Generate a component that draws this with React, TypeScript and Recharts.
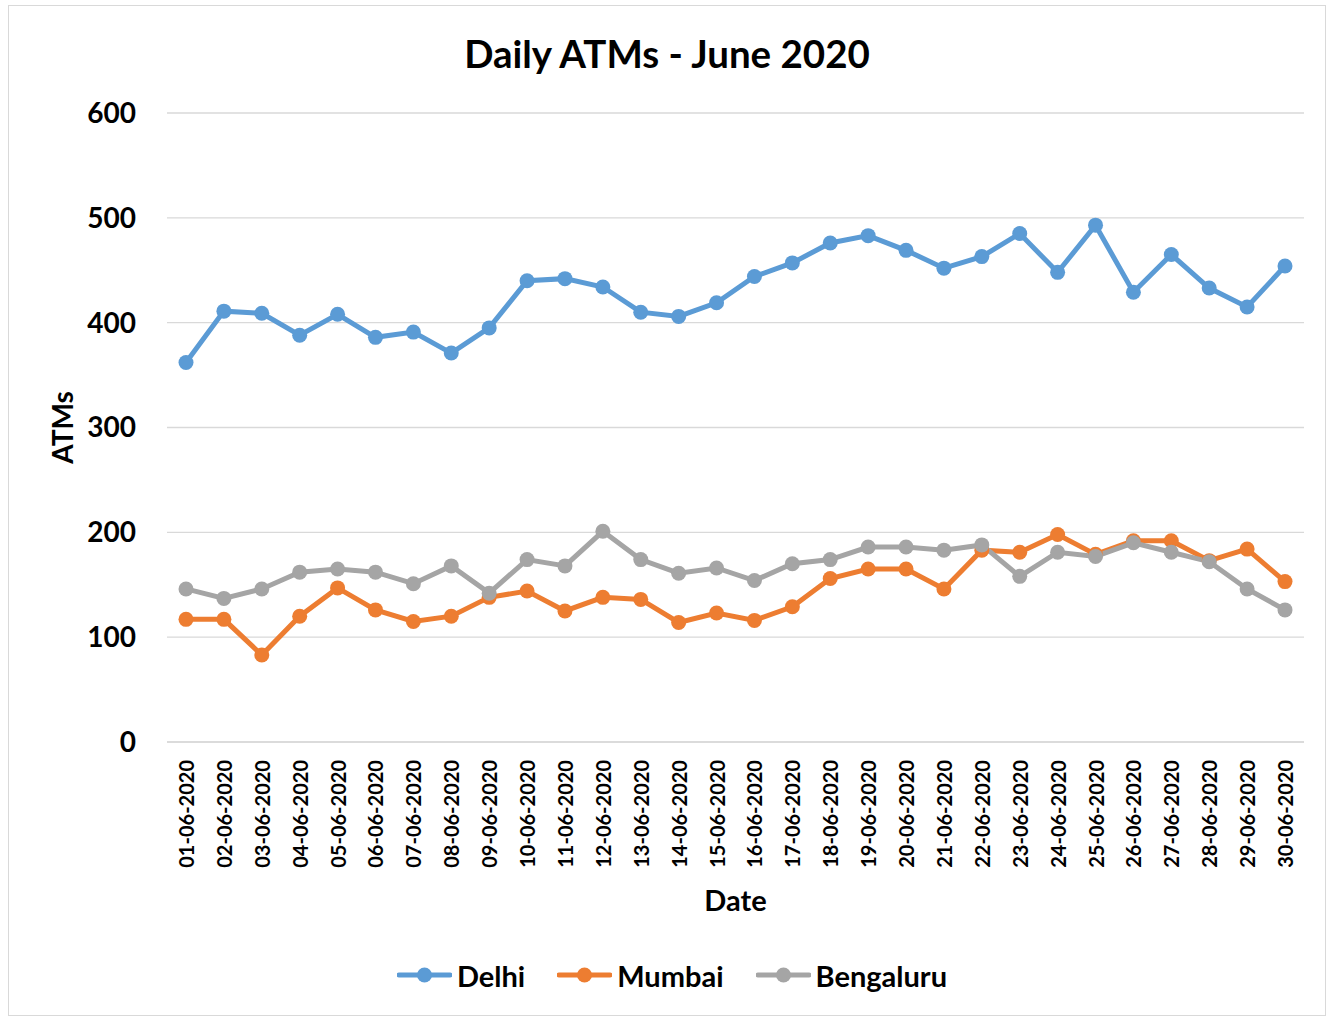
import React from 'react';
import { LineChart, Line, XAxis, YAxis, CartesianGrid, Legend, Label } from 'recharts';

const dates = [
  '01-06-2020', '02-06-2020', '03-06-2020', '04-06-2020', '05-06-2020', '06-06-2020',
  '07-06-2020', '08-06-2020', '09-06-2020', '10-06-2020', '11-06-2020', '12-06-2020',
  '13-06-2020', '14-06-2020', '15-06-2020', '16-06-2020', '17-06-2020', '18-06-2020',
  '19-06-2020', '20-06-2020', '21-06-2020', '22-06-2020', '23-06-2020', '24-06-2020',
  '25-06-2020', '26-06-2020', '27-06-2020', '28-06-2020', '29-06-2020', '30-06-2020',
];
const delhi = [362, 411, 409, 388, 408, 386, 391, 371, 395, 440, 442, 434, 410, 406, 419, 444, 457, 476, 483, 469, 452, 463, 485, 448, 493, 429, 465, 433, 415, 454];
const mumbai = [117, 117, 83, 120, 147, 126, 115, 120, 138, 144, 125, 138, 136, 114, 123, 116, 129, 156, 165, 165, 146, 183, 181, 198, 179, 192, 192, 173, 184, 153];
const bengaluru = [146, 137, 146, 162, 165, 162, 151, 168, 142, 174, 168, 201, 174, 161, 166, 154, 170, 174, 186, 186, 183, 188, 158, 181, 177, 190, 181, 172, 146, 126];
const yTicks = [0, 100, 200, 300, 400, 500, 600];
const seriesNames = ['Delhi', 'Mumbai', 'Bengaluru'];
const seriesColors: Record<string, string> = { Delhi: '#5B9BD5', Mumbai: '#ED7D31', Bengaluru: '#A5A5A5' };

const data = dates.map((d, i) => ({ date: d, Delhi: delhi[i], Mumbai: mumbai[i], Bengaluru: bengaluru[i] }));

const FONT = 'Lato, "Open Sans", sans-serif';
const W = 1316;
const H = 1009;

const XTick = (props: any) => {
  const { x, y, payload } = props;
  return (
    <text x={x} y={y} transform={`rotate(-90 ${x} ${y})`} textAnchor="end" dominantBaseline="central"
      fontFamily={FONT} fontWeight={700} fontSize={20} fill="#000">{payload.value}</text>
  );
};

const renderLegend = () => (
  <div style={{ display: 'flex', justifyContent: 'center', gap: 32, fontFamily: FONT, fontWeight: 700, fontSize: 29, color: '#000', height: 36, alignItems: 'center', paddingLeft: 10, boxSizing: 'border-box' }}>
    {seriesNames.map((name) => (
      <div key={name} style={{ display: 'flex', alignItems: 'center' }}>
        <svg width={55} height={16}>
          <line x1={2} y1={8} x2={53} y2={8} stroke={seriesColors[name]} strokeWidth={5} strokeLinecap="round" />
          <circle cx={27.5} cy={8} r={7.5} fill={seriesColors[name]} />
        </svg>
        <span style={{ marginLeft: 5 }}>{name}</span>
      </div>
    ))}
  </div>
);

export default function App() {
  return (
    <div style={{ position: 'absolute', left: 8, top: 5, width: W, height: H, border: '1px solid #d9d9d9', background: '#fff' }}>
      <div style={{ position: 'absolute', top: 27, left: 0, width: W, height: 40, lineHeight: '40px', textAlign: 'center', fontFamily: FONT, fontWeight: 700, fontSize: 38.5, color: '#000', zIndex: 2 }}>
        Daily ATMs - June 2020
      </div>
      <LineChart width={W} height={H} data={data} margin={{ top: 107, right: 21, left: 10, bottom: 0 }}>
        <CartesianGrid vertical={false} stroke="#d9d9d9" strokeWidth={1.3} />
        <XAxis dataKey="date" height={273} padding={{ left: 19, right: 19 }} tickLine={false} tickSize={0} tickMargin={18}
          axisLine={{ stroke: '#d9d9d9', strokeWidth: 1.3 }} tick={<XTick />} interval={0}>
          <Label content={(p: any) => {
            const vb = p.viewBox;
            return <text x={vb.x + vb.width / 2} y={vb.y + 157} textAnchor="middle" dominantBaseline="central"
              fontFamily={FONT} fontWeight={700} fontSize={29} fill="#000">Date</text>;
          }} />
        </XAxis>
        <YAxis width={148} domain={[0, 600]} ticks={yTicks} axisLine={false} tickLine={false} tickSize={0} tickMargin={31}
          tick={{ fontFamily: FONT, fontWeight: 700, fontSize: 28, fill: '#000' }}>
          <Label content={(p: any) => {
            const vb = p.viewBox;
            const cx = vb.x + 43;
            const cy = vb.y + vb.height / 2;
            return <text x={cx} y={cy} transform={`rotate(-90 ${cx} ${cy})`} textAnchor="middle" dominantBaseline="central"
              fontFamily={FONT} fontWeight={700} fontSize={28} fill="#000">ATMs</text>;
          }} />
        </YAxis>
        <Legend verticalAlign="middle" align="center" layout="horizontal" content={renderLegend}
          wrapperStyle={{ position: 'absolute', top: 951, left: 0, width: W, height: 36 }} />
        {seriesNames.map((name) => (
          <Line key={name} type="linear" dataKey={name} stroke={seriesColors[name]} strokeWidth={5}
            dot={{ r: 7.5, fill: seriesColors[name], stroke: 'none' }} activeDot={false} isAnimationActive={false} />
        ))}
      </LineChart>
    </div>
  );
}
